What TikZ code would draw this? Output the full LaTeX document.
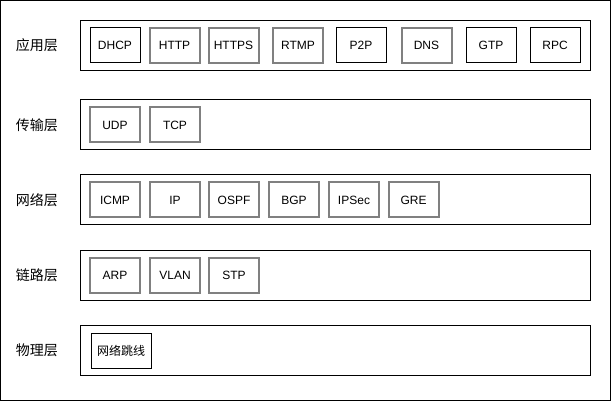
\documentclass[tikz,border=0pt]{standalone}
\usepackage{fontspec}
\setmainfont{Liberation Sans}
\newfontfamily\cjk{Noto Sans CJK SC}
\definecolor{boxgray}{RGB}{128,128,128}
\begin{document}
\begin{tikzpicture}[x=1pt,y=-1pt,
  frame/.style={draw=black,line width=1pt},
  layer/.style={draw=black,line width=1pt,minimum width=510pt,minimum height=50pt,inner sep=0pt,outer sep=0pt},
  lbl/.style={font=\cjk\fontsize{14}{16}\selectfont,inner sep=0pt},
  gbox/.style={draw=boxgray,line width=2pt,minimum width=50pt,minimum height=35pt,inner sep=0pt,outer sep=0pt,font=\fontsize{12}{14}\selectfont},
  bbox/.style={draw=black,line width=1pt,minimum width=50pt,minimum height=35pt,inner sep=0pt,outer sep=0pt,font=\fontsize{12}{14}\selectfont}
]
\useasboundingbox (0,0) rectangle (611,401);
\draw[frame] (0.5,0.5) rectangle (610,400);
% layers
\node[layer] (l1) at (335,45.5) {};
\node[layer] (l2) at (335,125) {};
\node[layer] (l3) at (335,200) {};
\node[layer] (l4) at (335,275) {};
\node[layer] (l5) at (335,350) {};
% labels
\node[lbl] (t1) at (37,45) {应用层};
\node[lbl] (t2) at (37,125) {传输层};
\node[lbl] (t3) at (37,200) {网络层};
\node[lbl] (t4) at (37,275) {链路层};
\node[lbl] (t5) at (37,350) {物理层};
% application layer
\node[bbox] (dhcp) at (115,45.5) {\raisebox{-3pt}{DHCP}};
\node[gbox] (http) at (174.5,45.5) {HTTP};
\node[gbox] (https) at (233.5,45.5) {HTTPS};
\node[gbox] (rtmp) at (298,45.5) {RTMP};
\node[bbox] (p2p) at (361,45.5) {P2P};
\node[gbox] (dns) at (426.5,45.5) {DNS};
\node[bbox] (gtp) at (491,45.5) {\raisebox{-3pt}{GTP}};
\node[bbox] (rpc) at (555,45.5) {RPC};
% transport layer
\node[gbox] (udp) at (115,125) {UDP};
\node[gbox] (tcp) at (175,125) {TCP};
% network layer
\node[gbox] (icmp) at (115,200) {ICMP};
\node[gbox] (ip) at (175,200) {IP};
\node[gbox] (ospf) at (234,200) {OSPF};
\node[gbox] (bgp) at (294,200) {BGP};
\node[gbox] (ipsec) at (354,200) {IPSec};
\node[gbox] (gre) at (413.5,200) {GRE};
% link layer
\node[gbox] (arp) at (115,275) {ARP};
\node[gbox] (vlan) at (175,275) {VLAN};
\node[gbox] (stp) at (234,275) {STP};
% physical layer
\node[bbox,minimum width=60pt,font=\cjk\fontsize{12}{14}\selectfont] (cable) at (121,350.5) {网络跳线};
\end{tikzpicture}
\end{document}
